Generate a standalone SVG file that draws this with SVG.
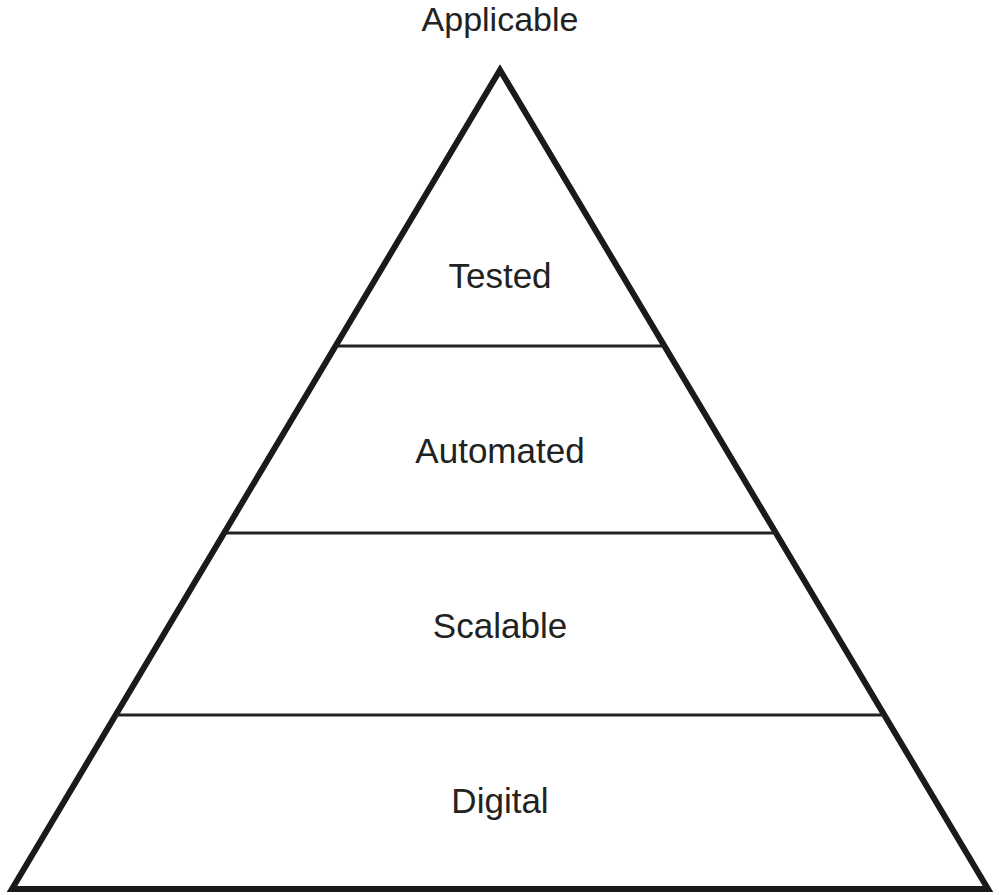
<svg xmlns="http://www.w3.org/2000/svg" width="1000" height="895" viewBox="0 0 1000 895">
<style>
.lbl{font-family:"Liberation Sans",Arial,sans-serif;font-size:35px;fill:#222;text-anchor:middle}
.div{stroke:#222;stroke-width:3}
</style>
<rect width="1000" height="895" fill="#fff"/>
<g id="pyramid">
<polygon points="500,70 12,889 988,889" fill="#fff" stroke="#1a1a1a" stroke-width="6" stroke-linejoin="miter"/>
</g>
<g id="connectors">
<line class="div" x1="335" y1="346" x2="665" y2="346"/>
<line class="div" x1="224" y1="533" x2="776" y2="533"/>
<line class="div" x1="116" y1="715" x2="884" y2="715"/>
</g>
<g id="applicable"><text class="lbl" x="500" y="31" style="font-size:34px">Applicable</text></g>
<g id="tested"><text class="lbl" x="500" y="288">Tested</text></g>
<g id="automated"><text class="lbl" x="500" y="463">Automated</text></g>
<g id="scalable"><text class="lbl" x="500" y="638">Scalable</text></g>
<g id="digital"><text class="lbl" x="500" y="813">Digital</text></g>
</svg>
